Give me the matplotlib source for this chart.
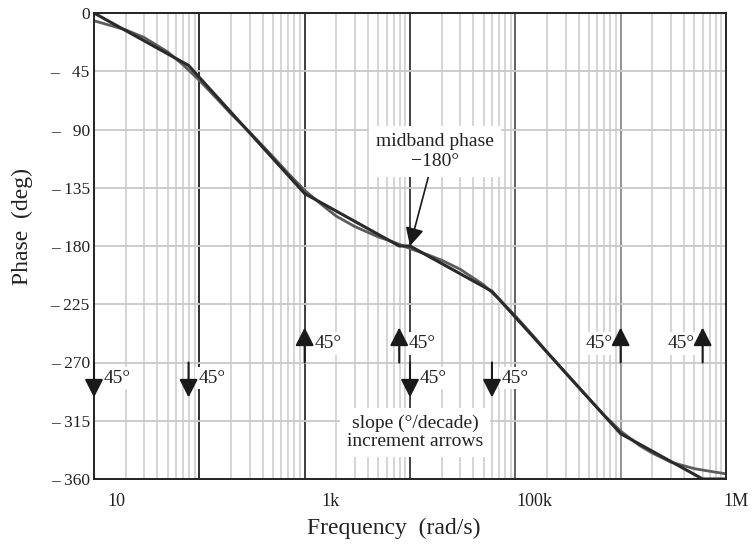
import numpy as np
import matplotlib
matplotlib.use("Agg")
import matplotlib.pyplot as plt
from matplotlib.ticker import LogLocator, NullFormatter
from matplotlib.transforms import ScaledTranslation

plt.rcParams['font.family'] = ['Liberation Serif', 'DejaVu Serif']

# Straight-line (asymptotic) phase, breakpoints
asym_freq  = [1, 7.9, 100, 790, 1000, 6000, 1e5, 6e5, 1e6]
asym_phase = [0, -40.5, -139.5, -180, -180, -215, -325, -360, -360]

freq  = [1, 2, 3, 5, 7, 10, 15, 20, 30, 50, 70, 100, 150, 200, 300, 500, 700,
         1e3, 1.5e3, 2e3, 3e3, 5e3, 7e3, 1e4, 1.5e4, 2e4, 3e4, 5e4, 7e4,
         1e5, 1.5e5, 2e5, 3e5, 5e5, 7e5, 1e6]
phase = [-6, -13, -19, -30, -40, -52, -67, -78, -92, -111, -124, -137, -149,
         -157, -165, -173, -177, -182, -187, -191, -198, -210, -221, -234,
         -250, -262, -278, -298, -311, -323, -334, -340, -347, -352, -354, -356]

# Slope increment arrows (+1 up, -1 down), each 45 deg/decade
arrow_freq  = [1, 7.9, 100, 790, 1000, 6000, 1e5, 6e5]
arrow_dir   = [-1, -1, 1, 1, -1, -1, 1, 1]
arrow_side  = ['r', 'r', 'r', 'r', 'r', 'r', 'l', 'l']
arrow_label = "45\u00b0"
arrow_base  = -270
arrow_len   = 27

# Axis ticks
decades      = [1, 10, 100, 1e3, 1e4, 1e5, 1e6]
decade_text  = ["10", "", "1k", "", "100k", "", "1M"]
decade_shift = [22, 0, 26, 0, 19, 0, 10]   # label offsets in pixels
phase_ticks  = list(range(0, -361, -45))

fig = plt.figure(figsize=(7.53, 5.45), dpi=100)
ax = fig.add_axes([94 / 753, 1 - 479 / 545, 632 / 753, 466 / 545])

ax.set_xscale('log')
ax.set_xlim(1, 1e6)
ax.set_ylim(-360, 0)

# Grid: light minor lines, dark decade lines, light horizontal lines
ax.xaxis.set_minor_locator(LogLocator(base=10, subs=np.arange(2, 10)))
ax.xaxis.set_minor_formatter(NullFormatter())
ax.grid(which='minor', axis='x', color='#d2d2d2', lw=1.3, zorder=0)
ax.grid(which='major', axis='y', color='#c8c8c8', lw=1.3, zorder=0)
dec_colors = ['#1e1e1e', '#2e2e2e', '#333333', '#555555', '#8a8a8a']
for d, c in zip(decades[1:-1], dec_colors):
    ax.axvline(d, color=c, lw=1.3, zorder=1)

ax.plot(freq, phase, color='#5c5c5c', lw=2.0, zorder=4)
ax.plot(asym_freq, asym_phase, color='#2a2a2a', lw=2.2, zorder=5)

# Ticks
ax.set_xticks(decades, decade_text)
ax.tick_params(axis='x', which='both', length=0, pad=10, labelsize=13,
               colors='#222222')
for lbl, dx in zip(ax.get_xticklabels(), decade_shift):
    lbl.set_transform(lbl.get_transform()
                      + ScaledTranslation(dx / 100, 0, fig.dpi_scale_trans))
ylabels = []
for v in phase_ticks:
    if v == 0:
        ylabels.append("0")
    else:
        ylabels.append("\u2013 " + str(-v).rjust(3, '\u2007'))
ax.set_yticks(phase_ticks, ylabels)
ax.tick_params(axis='y', length=0, pad=3, labelsize=12.5, colors='#222222')

for s in ax.spines.values():
    s.set_color('#222222')
    s.set_linewidth(1.4)
    s.set_zorder(6)

ax.set_xlabel("Frequency  (rad/s)", fontsize=17, color='#222222')
ax.set_ylabel("Phase  (deg)", fontsize=17, color='#222222')
ax.xaxis.set_label_coords(0.475, -0.083)
ax.yaxis.set_label_coords(-0.097, 0.541)

# Slope increment arrows with their labels
box = dict(boxstyle='square,pad=0.15', fc='white', ec='none')
for f, d, side in zip(arrow_freq, arrow_dir, arrow_side):
    tip = arrow_base + d * arrow_len
    ax.annotate('', xy=(f, tip), xytext=(f, arrow_base),
                arrowprops=dict(arrowstyle='-|>,head_length=0.55,head_width=0.28',
                                mutation_scale=20, lw=1.5, color='#1a1a1a',
                                shrinkA=0, shrinkB=0),
                annotation_clip=False, zorder=7)
    ty = -255 if d > 0 else -282
    dx = 7 if side == 'r' else -6
    ax.annotate(arrow_label, xy=(f, ty), xytext=(dx, 0),
                textcoords='offset points', ha='left' if side == 'r' else 'right',
                va='center', fontsize=14, color='#222222', bbox=box, zorder=3)

ax.annotate("midband phase\n\u2212180\u00b0", xy=(1000, -180), xytext=(1730, -107),
            ha='center', va='center', fontsize=14, color='#222222',
            bbox=dict(boxstyle='square,pad=0.35', fc='white', ec='none'),
            arrowprops=dict(arrowstyle='-|>,head_length=0.55,head_width=0.28',
                            mutation_scale=20, lw=1.2, color='#1a1a1a',
                            shrinkA=0, shrinkB=0),
            zorder=3)

ax.text(1120, -324, "slope (\u00b0/decade)\nincrement arrows", ha='center',
        va='center', fontsize=14, color='#222222', linespacing=1.1,
        bbox=dict(boxstyle='square,pad=0.35', fc='white', ec='none'), zorder=3)

fig.savefig("out.png", dpi=100)
